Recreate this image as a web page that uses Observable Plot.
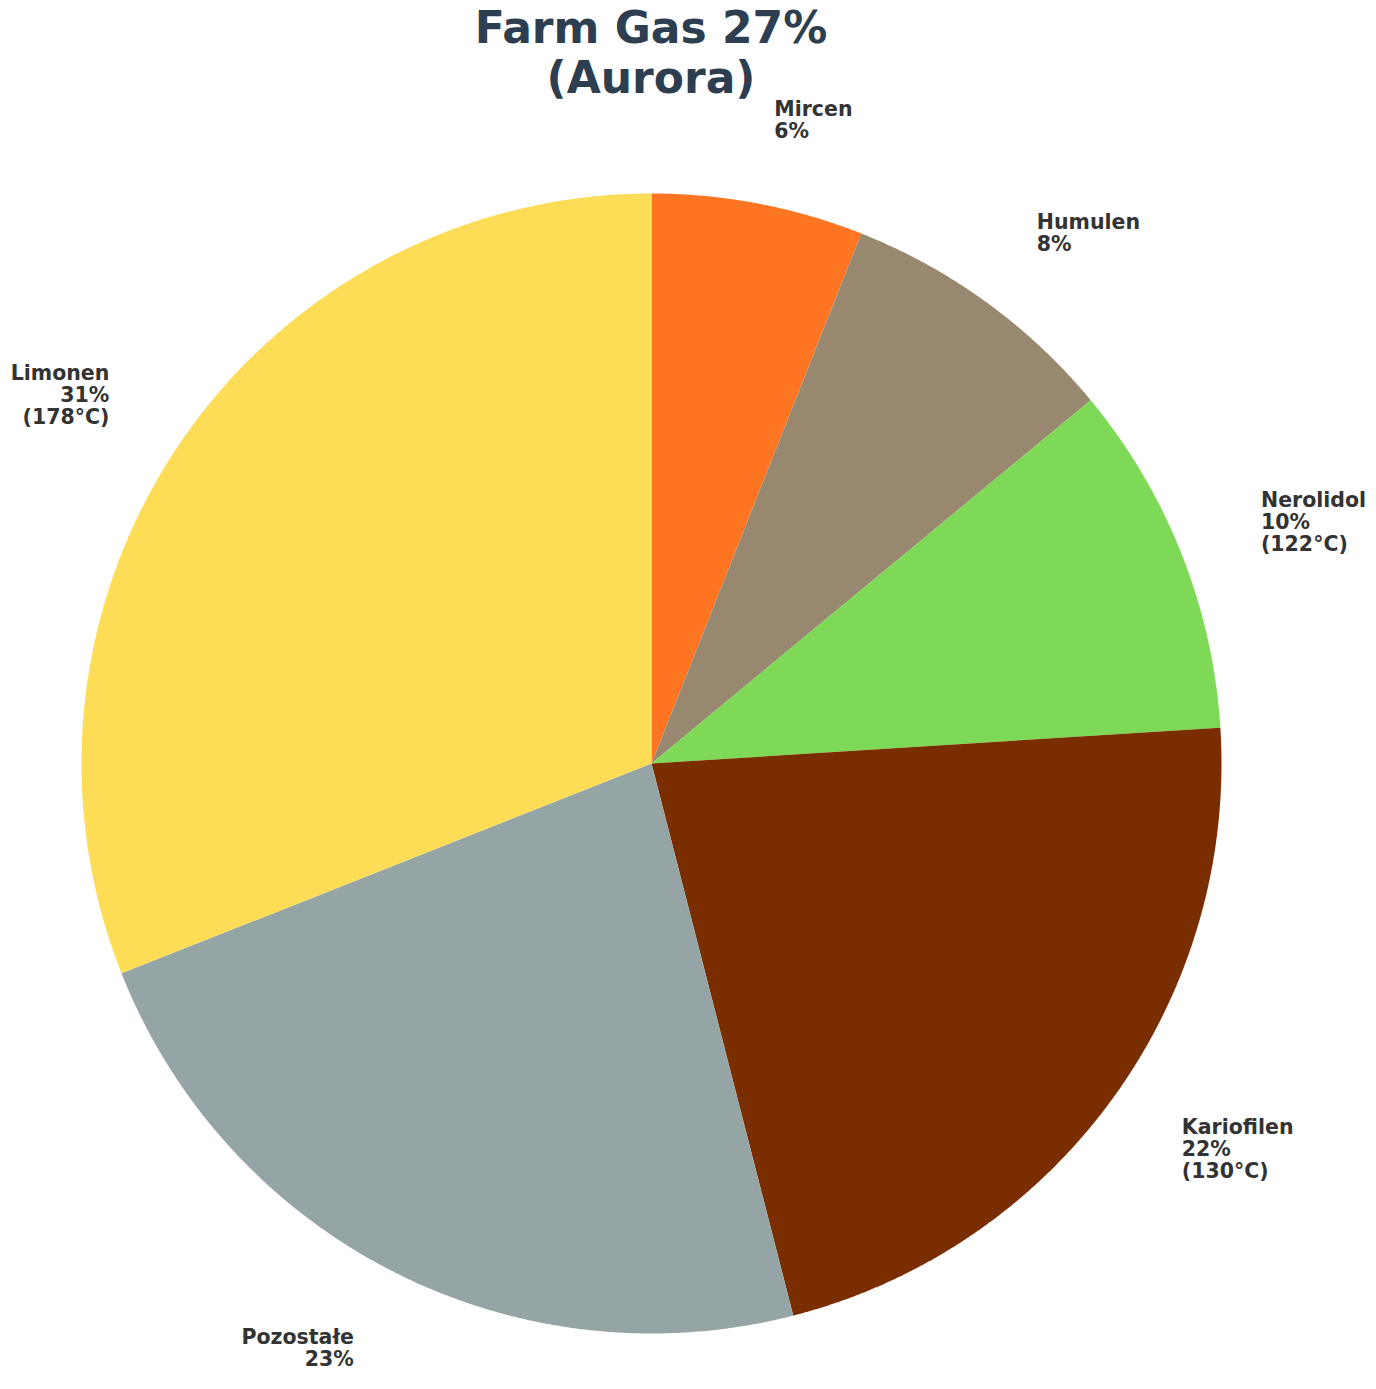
<!DOCTYPE html>
<html>
<head>
<meta charset="utf-8">
<script src="https://cdn.jsdelivr.net/npm/d3@7"></script>
<script src="https://cdn.jsdelivr.net/npm/@observablehq/plot@0.6"></script>
<style>
  html, body { margin: 0; padding: 0; background: #ffffff; }
  #wrap { position: relative; width: 1376px; height: 1389px; }
  #title { position: absolute; left: 0; top: 0; width: 1302px; box-sizing: border-box; padding-top: 3px;
    text-align: center; font-family: "DejaVu Sans", sans-serif; font-weight: bold;
    font-size: 44px; line-height: 50px; color: #2c3e50; z-index: 2; }
  #chart svg { display: block; }
</style>
</head>
<body>
<div id="wrap">
<div id="chart"></div>
<div id="title">Farm Gas 27%<br>(Aurora)</div>
</div>
<script>
const labels = ["Mircen", "Humulen", "Nerolidol", "Kariofilen", "Pozostałe", "Limonen"];
const values = [6, 8, 10, 22, 23, 31];
const temps = ["", "", "122°C", "130°C", "", "178°C"];
const colors = ["#ff7522", "#998870", "#7ed957", "#7a2e00", "#95a5a6", "#fddc56"];

const total = d3.sum(values);
const pie = d3.pie().sort(null).value(d => d)(values);

// wedge polygons in unit-radius coordinates (angle clockwise from 12 o'clock)
const wedgePts = [];
pie.forEach((p, i) => {
  const a0 = p.startAngle, a1 = p.endAngle;
  const n = Math.max(2, Math.ceil((a1 - a0) / (Math.PI / 720)));
  wedgePts.push({name: labels[i], x: 0, y: 0});
  for (let k = 0; k <= n; k++) {
    const a = a0 + (a1 - a0) * k / n;
    wedgePts.push({name: labels[i], x: Math.sin(a), y: Math.cos(a)});
  }
  wedgePts.push({name: labels[i], x: 0, y: 0});
});

const labelDist = 1.15;
const labelData = pie.map((p, i) => {
  const a = (p.startAngle + p.endAngle) / 2;
  const pct = Math.round(values[i] / total * 100) + "%";
  const txt = labels[i] + "\n" + pct + (temps[i] ? "\n(" + temps[i] + ")" : "");
  return {x: labelDist * Math.sin(a), y: labelDist * Math.cos(a), txt, right: Math.sin(a) >= 0};
});

const W = 1376, H = 1389;
const cx = 651, cy = 763, R = 570;

const chart = Plot.plot({
  width: W, height: H,
  margin: 0,
  x: {domain: [-cx / R, (W - cx) / R], range: [0, W], axis: null},
  y: {domain: [-(H - cy) / R, cy / R], range: [H, 0], axis: null},
  color: {domain: labels, range: colors},
  style: {fontFamily: "DejaVu Sans, sans-serif", background: "#ffffff"},
  marks: [
    Plot.line(wedgePts, {x: "x", y: "y", z: "name", fill: "name", stroke: "none", curve: "linear"}),
    Plot.text(labelData.filter(d => d.right), {x: "x", y: "y", text: "txt", textAnchor: "start",
      lineAnchor: "middle", lineHeight: 1.07, fontSize: 20.5, fontWeight: "bold", fill: "#333333"}),
    Plot.text(labelData.filter(d => !d.right), {x: "x", y: "y", text: "txt", textAnchor: "end",
      lineAnchor: "middle", lineHeight: 1.07, fontSize: 20.5, fontWeight: "bold", fill: "#333333"})
  ]
});
document.getElementById("chart").appendChild(chart);
</script>
</body>
</html>
